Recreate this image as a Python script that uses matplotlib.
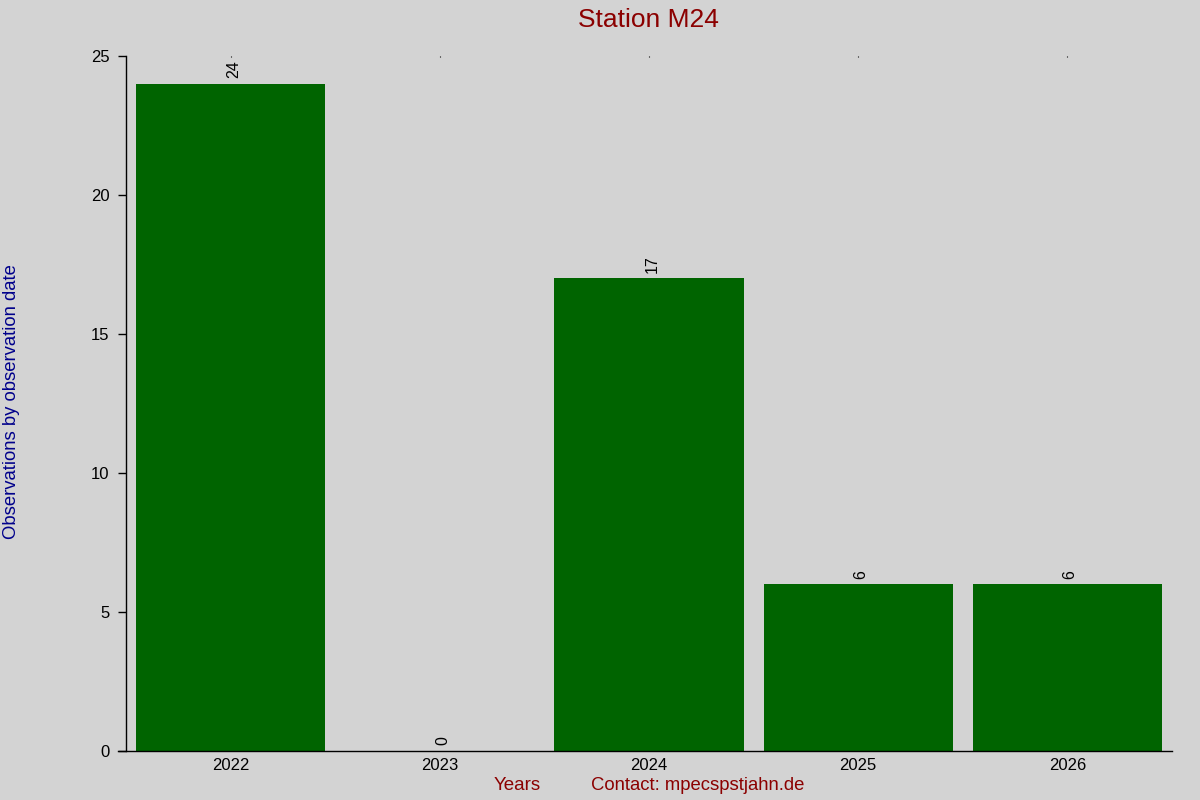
import matplotlib
matplotlib.use("Agg")
import matplotlib.pyplot as plt

years = ["2022", "2023", "2024", "2025", "2026"]
counts = [24, 0, 17, 6, 6]
yticks = [0, 5, 10, 15, 20, 25]

plt.rcParams['font.family'] = ['Liberation Sans', 'DejaVu Sans']

bg = "#d3d3d3"
fig = plt.figure(figsize=(12, 8), dpi=100, facecolor=bg)
ax = fig.add_axes([0.105, 0.06125, 0.8717, 0.86875])
ax.set_facecolor(bg)

x = list(range(len(years)))
ax.bar(x, counts, width=0.905, color="#006400")
for xi, v in zip(x, counts):
    ax.annotate(str(v), (xi, v), xytext=(2, 4), textcoords="offset points",
                rotation=90, ha="center", va="bottom", fontsize=11.5, color="black")

ax.set_xlim(-0.5, len(years) - 0.5)
ax.set_ylim(0, 25)
ax.set_xticks(x)
ax.set_xticklabels(years, fontsize=12)
ax.set_yticks(yticks)
ax.set_yticklabels([str(t) for t in yticks], fontsize=12)

for s in ["top", "right"]:
    ax.spines[s].set_visible(False)
ax.spines["left"].set_linewidth(1)
ax.spines["bottom"].set_linewidth(1)
ax.spines["bottom"].set_bounds(-0.5 - 8 / 209, len(years) - 0.5)

ax.tick_params(axis="y", length=6, width=1, pad=6)
ax.tick_params(axis="x", length=0, pad=5, top=True, labeltop=False)
ax.tick_params(axis="x", which="major", direction="in")
for t in ax.xaxis.get_major_ticks():
    t.tick1line.set_visible(False)
    t.tick2line.set_markersize(1)
    t.tick2line.set_visible(True)

fig.suptitle("Station M24", x=0.54, y=0.99, va="top", fontsize=19, color="#8b0000")
fig.text(0.0095, 0.4985, "Observations by observation date", rotation=90,
         ha="center", va="center", fontsize=13.3, color="#00008b")
fig.text(0.431, 0.0175, "Years", ha="center", va="center", fontsize=13.5, color="#8b0000")
fig.text(0.5817, 0.0175, "Contact: mpecspstjahn.de", ha="center", va="center",
         fontsize=13.3, color="#8b0000")

fig.savefig("out.png", dpi=100, facecolor=bg)
